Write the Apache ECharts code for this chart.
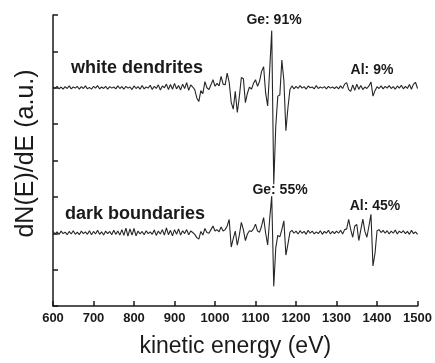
<!DOCTYPE html>
<html>
<head>
<meta charset="utf-8">
<script src="https://cdn.jsdelivr.net/npm/echarts@6/dist/echarts.min.js"></script>
<style>
  html, body { margin: 0; padding: 0; background: #fff; }
  #chart { width: 435px; height: 363px; }
</style>
</head>
<body>
<div id="chart"></div>
<script>
// kinetic energy grid (eV)
const energy = [
  600, 605, 610, 615, 620, 625, 630, 635, 640, 645, 650, 655, 660, 665, 670, 675, 680, 685, 690, 695,
  700, 705, 710, 715, 720, 725, 730, 735, 740, 745, 750, 755, 760, 765, 770, 775, 780, 785, 790, 795,
  800, 805, 810, 815, 820, 825, 830, 835, 840, 845, 850, 855, 860, 865, 870, 875, 880, 885, 890, 895,
  900, 905, 910, 915, 920, 925, 930, 935, 940, 945, 950, 955, 960, 965, 970, 975, 980, 985, 990, 995,
  1000, 1005, 1010, 1015, 1020, 1025, 1030, 1035, 1040, 1045, 1050, 1055, 1060, 1065, 1070, 1075, 1080, 1085, 1090, 1095,
  1100, 1105, 1110, 1115, 1120, 1125, 1130, 1135, 1140, 1145, 1150, 1155, 1160, 1165, 1170, 1175, 1180, 1185, 1190, 1195,
  1200, 1205, 1210, 1215, 1220, 1225, 1230, 1235, 1240, 1245, 1250, 1255, 1260, 1265, 1270, 1275, 1280, 1285, 1290, 1295,
  1300, 1305, 1310, 1315, 1320, 1325, 1330, 1335, 1340, 1345, 1350, 1355, 1360, 1365, 1370, 1375, 1380, 1385, 1390, 1395,
  1400, 1405, 1410, 1415, 1420, 1425, 1430, 1435, 1440, 1445, 1450, 1455, 1460, 1465, 1470, 1475, 1480, 1485, 1490, 1495,
  1500
]

// white dendrites spectrum (offset trace, a.u.)
const whiteDendrites = [
  6.03, 5.98, 6.04, 5.97, 6.02, 5.96, 6.03, 5.98, 6.05, 5.97, 6.02, 5.99, 6.04, 5.96, 6.03, 5.98, 6.05, 5.97, 6.01, 5.96,
  6.04, 5.99, 6.06, 5.97, 6.02, 5.98, 6.04, 5.96, 6.03, 5.99, 6.02, 5.97, 6.05, 5.98, 6.03, 5.96, 6.04, 5.99, 6.02, 5.95,
  6.05, 5.98, 6.03, 5.96, 6.06, 5.97, 6.02, 5.99, 6.07, 5.95, 6.04, 5.98, 6.08, 5.94, 6.05, 6.00, 6.10, 5.95, 6.09, 5.96,
  6.12, 5.97, 6.06, 5.94, 6.10, 5.98, 6.14, 5.93, 6.08, 6.02, 5.95, 5.72, 5.62, 5.92, 5.84, 6.17, 6.00, 5.95, 6.08, 6.22,
  6.04, 6.12, 6.05, 6.31, 6.10, 6.08, 6.40, 6.15, 5.60, 5.41, 5.90, 5.32, 5.75, 6.28, 6.25, 5.59, 5.85, 6.02, 5.96, 6.12,
  6.22, 6.04, 6.18, 6.45, 6.58, 5.85, 5.50, 6.50, 7.57, 3.35, 4.95, 5.77, 5.80, 6.76, 6.20, 4.82, 5.45, 5.95, 6.05, 5.97,
  6.04, 5.98, 6.06, 5.99, 6.03, 5.96, 6.05, 6.00, 6.02, 5.97, 6.06, 5.98, 6.02, 5.99, 6.03, 5.97, 6.04, 5.99, 6.02, 5.98,
  6.03, 5.97, 6.05, 5.98, 6.10, 6.14, 5.95, 5.90, 6.08, 5.93, 6.10, 5.96, 6.06, 5.95, 6.02, 5.98, 6.05, 6.16, 5.77, 5.92,
  6.03, 5.98, 6.05, 5.97, 6.04, 5.99, 6.06, 5.98, 6.03, 5.96, 6.05, 5.99, 6.07, 5.97, 6.04, 5.98, 6.09, 5.96, 6.10, 6.15,
  5.98
]

// dark boundaries spectrum (offset trace, a.u.)
const darkBoundaries = [
  2.05, 1.98, 2.04, 1.97, 2.06, 1.99, 2.03, 1.96, 2.05, 1.98, 2.07, 1.97, 2.03, 1.96, 2.06, 1.99, 2.04, 1.97, 2.07, 1.96,
  2.05, 1.98, 2.08, 1.97, 2.04, 1.95, 2.06, 1.99, 2.05, 1.96, 2.08, 1.97, 2.06, 1.95, 2.10, 1.94, 2.14, 1.92, 2.12, 1.95,
  2.13, 1.93, 2.06, 1.98, 2.05, 1.96, 2.07, 1.99, 2.04, 1.97, 2.09, 1.94, 2.06, 1.98, 2.10, 1.95, 2.15, 1.96, 2.08, 1.93,
  2.10, 1.97, 2.12, 1.95, 2.07, 1.99, 2.10, 1.96, 2.06, 2.02, 1.97, 1.88, 1.84, 2.05, 1.95, 2.13, 2.02, 2.00, 2.10, 2.20,
  2.06, 2.10, 2.04, 2.17, 2.06, 2.10, 2.20, 2.38, 1.62, 1.85, 2.06, 1.67, 1.95, 2.30, 2.10, 1.80, 1.98, 2.07, 2.05, 2.12,
  2.25, 2.06, 2.03, 2.20, 2.43, 2.00, 1.68, 2.40, 3.02, 0.54, 1.60, 1.94, 1.90, 2.10, 2.34, 1.40, 1.70, 2.03, 2.08, 2.00,
  2.06, 1.98, 2.07, 2.00, 2.05, 1.97, 2.08, 2.00, 2.06, 1.98, 2.04, 1.99, 2.07, 1.97, 2.05, 2.00, 2.08, 1.98, 2.05, 1.99,
  2.06, 2.00, 2.08, 1.98, 2.10, 2.12, 2.38, 2.10, 1.89, 2.20, 2.24, 1.80, 2.10, 2.39, 2.05, 1.89, 2.20, 2.52, 1.10, 1.45,
  2.07, 2.10, 2.02, 2.08, 2.00, 2.07, 1.98, 2.06, 2.00, 2.09, 1.98, 2.06, 2.01, 2.07, 1.99, 2.05, 1.97, 2.08, 1.99, 2.04,
  1.97
]

// annotation texts
const traceNames = ['white dendrites', 'dark boundaries']
const peakLabels = ['Ge: 91%', 'Al: 9%', 'Ge: 55%', 'Al: 45%']

const font = '"Liberation Sans", Arial, Helvetica, sans-serif'
const ink = '#1a1a1a'

const chart = echarts.init(document.getElementById('chart'))

function textEl(text, x, y, size) {
  return {
    type: 'text',
    x: x,
    y: y,
    style: {
      text: text,
      fill: ink,
      font: 'bold ' + size + 'px ' + font,
      align: 'center',
      verticalAlign: 'middle'
    }
  }
}

const option = {
  backgroundColor: '#fff',
  animation: false,
  grid: {
    left: 53,
    right: 17,
    top: 15,
    bottom: 53
  },
  xAxis: {
    type: 'value',
    min: 600,
    max: 1500,
    interval: 100,
    name: 'kinetic energy (eV)',
    nameLocation: 'middle',
    nameGap: 29,
    nameTextStyle: {
      fontFamily: font,
      fontSize: 23,
      color: ink
    },
    axisLine: { lineStyle: { color: ink, width: 1.5 } },
    axisTick: { inside: true, length: 5, lineStyle: { color: ink, width: 1.5 } },
    axisLabel: {
      fontFamily: font,
      fontSize: 13,
      fontWeight: 'bold',
      color: ink,
      margin: 6,
      formatter: v => String(v)
    },
    splitLine: { show: false }
  },
  yAxis: {
    type: 'value',
    min: 0,
    max: 8,
    interval: 1,
    name: 'dN(E)/dE (a.u.)',
    nameLocation: 'middle',
    nameGap: 14,
    nameTextStyle: {
      fontFamily: font,
      fontSize: 25,
      color: ink,
      padding: [0, 0, 0, 14]
    },
    axisLine: { show: true, lineStyle: { color: ink, width: 1.5 } },
    axisTick: { show: true, inside: true, length: 5, lineStyle: { color: ink, width: 1.5 } },
    axisLabel: { show: false },
    splitLine: { show: false }
  },
  series: [
    {
      name: traceNames[0],
      type: 'line',
      data: energy.map((e, i) => [e, whiteDendrites[i]]),
      symbol: 'none',
      lineStyle: { color: '#262626', width: 1.1 }
    },
    {
      name: traceNames[1],
      type: 'line',
      data: energy.map((e, i) => [e, darkBoundaries[i]]),
      symbol: 'none',
      lineStyle: { color: '#262626', width: 1.1 }
    }
  ],
  graphic: [
    textEl(traceNames[0], 137, 68, 18),
    textEl(traceNames[1], 135, 214, 18),
    textEl(peakLabels[0], 274, 20, 14),
    textEl(peakLabels[1], 372, 70, 14),
    textEl(peakLabels[2], 280, 190, 14),
    textEl(peakLabels[3], 375, 206, 14)
  ]
}

chart.setOption(option)
</script>
</body>
</html>
